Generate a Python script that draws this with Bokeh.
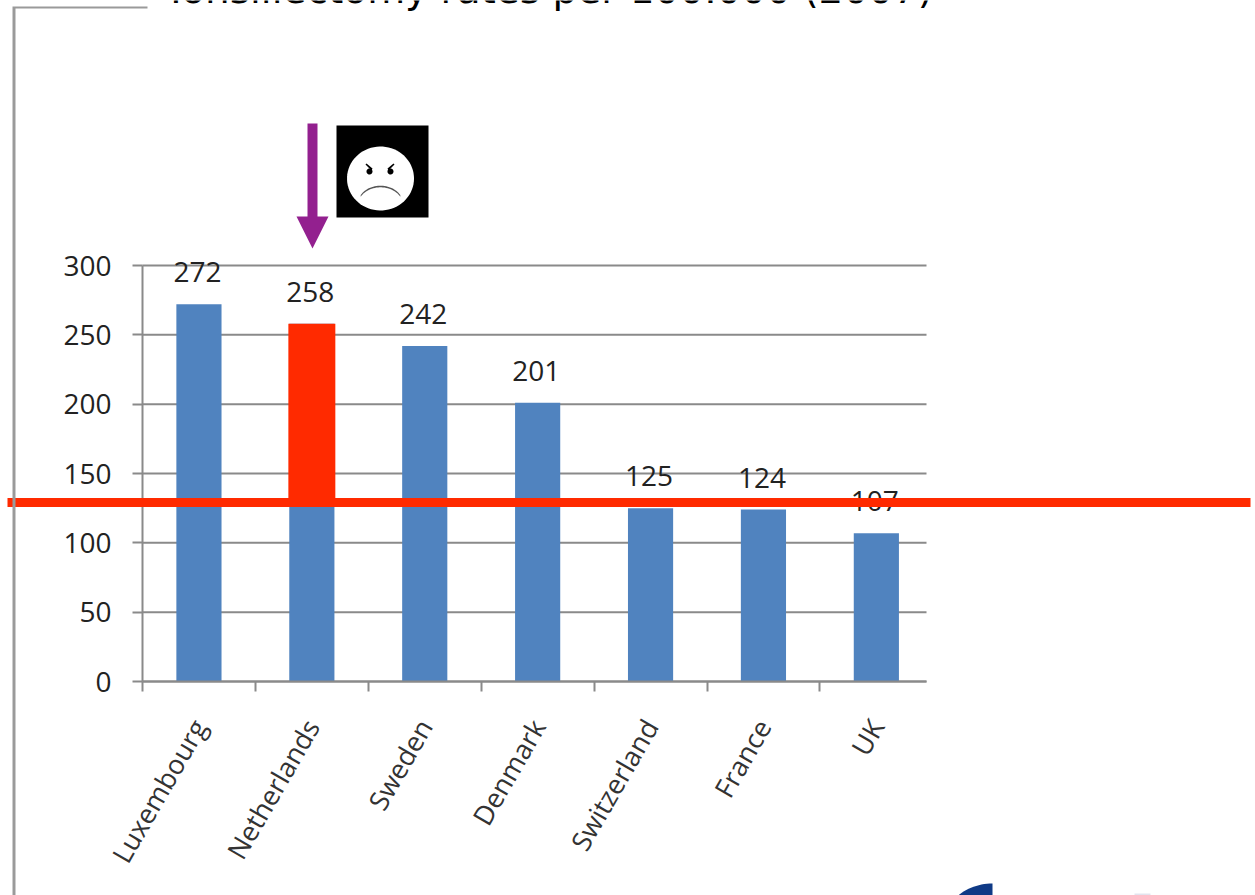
import numpy as np
from bokeh.embed import file_html
from bokeh.models import ColumnDataSource, FixedTicker, Label, LinearAxis, PolyAnnotation, Range1d
from bokeh.core.properties import value
from bokeh.plotting import figure
from bokeh.resources import INLINE

# Tonsillectomy rates per 100.000 inhabitants
countries = ["Luxembourg", "Netherlands", "Sweden", "Denmark", "Switzerland", "France", "UK"]
rates = [272, 258, 242, 201, 125, 124, 107]
y_ticks = [0, 50, 100, 150, 200, 250, 300]
threshold = 129
title_text = "Tonsillectomy rates per 100.000 (2007)"

BLUE = "#5083BF"
RED = "#FF2A00"
PURPLE = "#93208F"
GREY = "#8A8A8A"
FONT = "Open Sans"

# The plot area fills the slide; the chart's origin sits inside it
W, H = 1255, 895
X0, Y0 = 142, 681
SLOT = 112.9
UNIT = 416 / 300
AXIS_END = (926 - X0) / SLOT

slots = np.arange(len(countries))
centres = slots + 0.5

p = figure(width=W, height=H, output_backend="svg", toolbar_location=None,
           x_range=Range1d(-X0 / SLOT, (W - X0) / SLOT),
           y_range=Range1d(-(H - Y0) / UNIT, Y0 / UNIT),
           x_axis_location=None, y_axis_location=None,
           min_border=0)
p.outline_line_color = None
p.background_fill_color = "white"
p.grid.visible = False

# Horizontal gridlines stop at the end of the category axis
p.segment(x0=0, x1=AXIS_END, y0=y_ticks, y1=y_ticks, line_color=GREY, line_width=2, level="underlay")

y_axis = LinearAxis(fixed_location=0, bounds=(0, 300), ticker=FixedTicker(ticks=y_ticks))
y_axis.axis_line_color = GREY
y_axis.axis_line_width = 2
y_axis.major_tick_line_color = GREY
y_axis.major_tick_line_width = 2
y_axis.major_tick_in = 0
y_axis.major_tick_out = 10
y_axis.minor_tick_line_color = None
y_axis.major_label_standoff = 21
y_axis.major_label_text_font = FONT
y_axis.major_label_text_font_size = "28px"
y_axis.major_label_text_color = "#222222"
p.add_layout(y_axis, "left")

# Category names sit on the bar centres, tick marks on the slot boundaries
x_axis = LinearAxis(fixed_location=0, bounds=(0, AXIS_END),
                    ticker=FixedTicker(ticks=list(centres), minor_ticks=list(slots)))
x_axis.major_label_overrides = {float(c): n for c, n in zip(centres, countries)}
x_axis.major_tick_line_color = None
x_axis.major_tick_in = 0
x_axis.major_tick_out = 0
x_axis.minor_tick_line_color = GREY
x_axis.minor_tick_line_width = 2
x_axis.minor_tick_in = 0
x_axis.minor_tick_out = 10
x_axis.axis_line_color = GREY
x_axis.axis_line_width = 2
x_axis.major_label_orientation = np.pi / 3
x_axis.major_label_standoff = 30
x_axis.major_label_text_font = FONT
x_axis.major_label_text_font_size = "27px"
x_axis.major_label_text_color = "#333333"
p.add_layout(x_axis, "below")

source = ColumnDataSource(dict(x=centres, rate=rates, label=[str(r) for r in rates]))
p.vbar(x="x", top="rate", width=0.4, bottom=0, source=source, fill_color=BLUE, line_color=None)

# The Netherlands bar turns red above the reference level
nl = countries.index("Netherlands")
p.vbar(x=[centres[nl]], top=[rates[nl]], bottom=[threshold], width=0.416, fill_color=RED, line_color=None)

p.text(x="x", y="rate", text="label", source=source, x_offset=-1.5, y_offset=-32,
       text_align="center", text_baseline="alphabetic", text_font=value(FONT),
       text_font_size="28px", text_color="#222222")


def filled(xs, ys, color, ys_units="canvas"):
    p.add_layout(PolyAnnotation(xs=list(xs), ys=list(ys), xs_units="canvas", ys_units=ys_units,
                                fill_color=color, fill_alpha=1, line_color=None))


# Reference level across the whole slide
half = 4.5 / UNIT
filled([7, 1250, 1250, 7], [threshold + half, threshold + half, threshold - half, threshold - half], RED, "data")

# Slide frame fragment
filled([12, 147, 147, 15, 15, 12], [6, 6, 8, 8, 895, 895], "#9A9A9A")

# Arrow pointing at the Netherlands
filled([307, 317, 317, 328, 312, 296, 307], [123, 123, 216, 216, 248, 216, 216], PURPLE)

# Frowning face
filled([336, 428, 428, 336], [125, 125, 217, 217], "black")
t = np.linspace(0, 2 * np.pi, 72)
filled(380 + 33.5 * np.cos(t), 178 + 32 * np.sin(t), "white")
for ex in (369, 390):
    filled(ex + 3 * np.cos(t), 171 + 3 * np.sin(t), "black")
filled([365, 366, 372, 371], [164, 163, 168, 170], "black")
filled([394, 393, 387, 388], [164, 163, 168, 170], "black")
mt = np.linspace(np.pi * 1.17, np.pi * 1.83, 30)
mx = 380 + 23 * np.cos(mt)
my = 205 + 19 * np.sin(mt)
filled(np.r_[mx, mx[::-1]], np.r_[my - 0.8, my[::-1] + 0.8], "#555555")

# Corners of the logo at the bottom edge
lt = np.linspace(np.pi * 0.5, np.pi * 0.85, 20)
filled(np.r_[992 + 48 * np.cos(lt), 992], np.r_[923 - 40 * np.sin(lt), 895], "#0F3A86")
filled([1134, 1150, 1150, 1134], [893, 893, 895, 895], "#E2E4EE")

p.add_layout(Label(x=548, y=-11, x_units="canvas", y_units="canvas", text=title_text,
                   text_align="center", text_baseline="alphabetic", text_font="DejaVu Sans",
                   text_font_size="39px", text_color="black"))

open("out.html", "w").write(file_html(p, INLINE))
